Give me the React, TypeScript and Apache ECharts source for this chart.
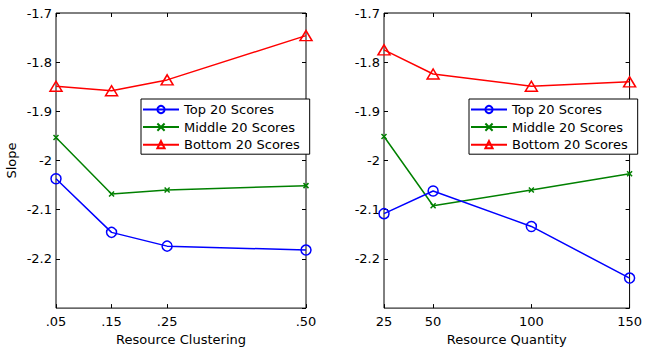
import React, { useEffect, useRef } from "react";
import * as echarts from "echarts";

const clusteringX = [0.05, 0.15, 0.25, 0.5];
const quantityX = [25, 50, 100, 150];
const seriesNames = ["Top 20 Scores", "Middle 20 Scores", "Bottom 20 Scores"];

const clusterTop = [-2.037, -2.146, -2.174, -2.182];
const clusterMiddle = [-1.953, -2.068, -2.06, -2.051];
const clusterBottom = [-1.849, -1.858, -1.836, -1.746];

const quantityTop = [-2.108, -2.062, -2.134, -2.239];
const quantityMiddle = [-1.951, -2.092, -2.06, -2.027];
const quantityBottom = [-1.775, -1.824, -1.849, -1.84];

const colors = ["#0000ff", "#008000", "#ff0000"];
const FONT = "DejaVu Sans";

const xMark = "path://M0,0L10,10M10,0L0,10";

function mkSeries(name: string, idx: number, xs: number[], ys: number[], axisIdx: number) {
  const c = colors[idx];
  const sym = idx === 0 ? "circle" : idx === 1 ? xMark : "triangle";
  const size = idx === 0 ? 10 : idx === 1 ? 5 : [12, 10];
  return {
    type: "line",
    name,
    xAxisIndex: axisIdx,
    yAxisIndex: axisIdx,
    data: xs.map((x, i) => [x, ys[i]]),
    symbol: sym,
    symbolSize: size,
    showAllSymbol: true,
    lineStyle: { color: c, width: 1.5 },
    itemStyle: { color: idx === 1 ? c : "rgba(0,0,0,0)", borderColor: c, borderWidth: 1.5 },
    emphasis: { disabled: true },
    z: 3 - idx,
  };
}

export default function App() {
  const ref = useRef<HTMLDivElement>(null);
  useEffect(() => {
    const chart = echarts.init(ref.current!, undefined, { renderer: "svg" });
    const grids = [
      { left: 56, top: 13, width: 250, height: 303 },
      { left: 384, top: 13, width: 250, height: 303 },
    ];
    const xCfg = [
      { min: 0.05, max: 0.5, ticks: clusteringX, name: "Resource Clustering", fmt: (v: number) => "." + String(Math.round(v * 100)).padStart(2, "0") },
      { min: 25, max: 150, ticks: quantityX, name: "Resource Quantity", fmt: (v: number) => String(v) },
    ];
    const xAxis: any[] = [];
    const yAxis: any[] = [];
    const textStyle = { fontFamily: FONT, fontSize: 13, color: "#000" };
    for (let g = 0; g < 2; g++) {
      const c = xCfg[g];
      xAxis.push({
        type: "value",
        gridIndex: g,
        min: c.min,
        max: c.max,
        name: c.name,
        nameLocation: "middle",
        nameGap: 19,
        nameTextStyle: textStyle,
        axisLine: { show: false },
        splitLine: { show: false },
        axisTick: { inside: true, length: 4, customValues: c.ticks, lineStyle: { color: "#000" } },
        axisLabel: { ...textStyle, margin: 7, customValues: c.ticks, formatter: c.fmt },
      });
      xAxis.push({
        type: "value",
        gridIndex: g,
        position: "top",
        min: c.min,
        max: c.max,
        axisLine: { show: false },
        splitLine: { show: false },
        axisTick: { inside: true, length: 4, customValues: c.ticks, lineStyle: { color: "#000" } },
        axisLabel: { show: false, customValues: c.ticks },
      });
      yAxis.push({
        type: "value",
        gridIndex: g,
        min: -2.3,
        max: -1.7,
        interval: 0.1,
        name: g === 0 ? "Slope" : "",
        nameLocation: "middle",
        nameGap: 38,
        nameTextStyle: textStyle,
        axisLine: { show: false },
        splitLine: { show: false },
        axisTick: { inside: true, length: 4, lineStyle: { color: "#000" } },
        axisLabel: { ...textStyle, margin: 4, showMinLabel: false, formatter: (v: number) => String(Math.round(v * 10) / 10) },
      });
      yAxis.push({
        type: "value",
        gridIndex: g,
        position: "right",
        min: -2.3,
        max: -1.7,
        interval: 0.1,
        axisLine: { show: false },
        splitLine: { show: false },
        axisTick: { inside: true, length: 4, lineStyle: { color: "#000" } },
        axisLabel: { show: false },
      });
    }
    // series axis indices: bottom x axes are 0 and 2, left y axes 0 and 2
    const series = [
      mkSeries(seriesNames[0], 0, clusteringX, clusterTop, 0),
      mkSeries(seriesNames[1], 1, clusteringX, clusterMiddle, 0),
      mkSeries(seriesNames[2], 2, clusteringX, clusterBottom, 0),
      mkSeries(seriesNames[0], 0, quantityX, quantityTop, 2),
      mkSeries(seriesNames[1], 1, quantityX, quantityMiddle, 2),
      mkSeries(seriesNames[2], 2, quantityX, quantityBottom, 2),
    ];
    const legendBase = {
      orient: "vertical",
      top: 99,
      data: seriesNames,
      backgroundColor: "#fff",
      borderColor: "#000",
      borderWidth: 1,
      borderRadius: 0,
      padding: [4, 10, 3, 1],
      itemGap: 4.6,
      itemWidth: 36,
      itemHeight: 9,
      textStyle: { ...textStyle },
      selectedMode: false,
    };
    chart.setOption({
      animation: false,
      grid: grids.map((g) => ({ ...g, show: true, borderColor: "#000", borderWidth: 1, backgroundColor: "transparent" })),
      xAxis,
      yAxis,
      legend: [
        { ...legendBase, left: 141 },
        { ...legendBase, left: 469 },
      ],
      series,
    });
    return () => chart.dispose();
  }, []);
  return <div ref={ref} style={{ width: 645, height: 351, position: "absolute", left: 0, top: 0 }} />;
}
